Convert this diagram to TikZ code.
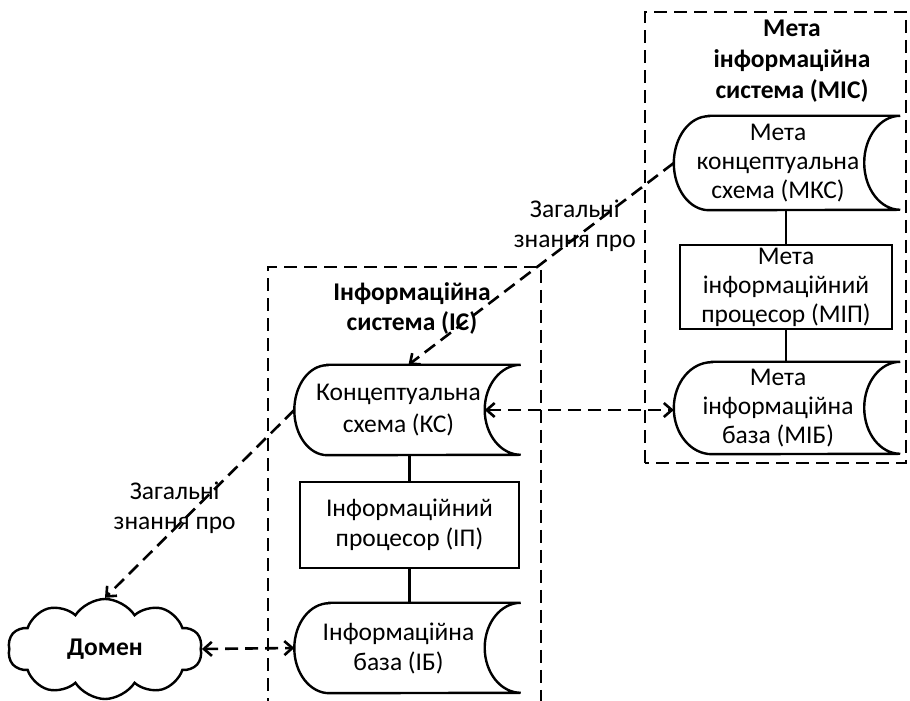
\documentclass[tikz,border=0pt]{standalone}
\usepackage{fontspec}
\setmainfont{Carlito}
\usetikzlibrary{arrows.meta,shapes.symbols}

\tikzset{
  lbl/.style={font=\fontsize{25.5}{30}\selectfont, align=center},
  ttl/.style={font=\fontsize{25.5}{30}\selectfont\bfseries, align=center},
  storebox/.style={lbl, inner sep=0pt, minimum width=208pt, minimum height=#1},
  procbox/.style={lbl, draw, line width=2.4pt, inner sep=0pt},
  solidline/.style={line width=2.4pt},
  dashline/.style={line width=2.6pt, dash pattern=on 13pt off 7pt},
  flow/.style={dashline, >={Straight Barb[length=8pt,width=14pt]}},
}

% outline of a stored-data symbol around node #1:
% #2 depth of the left bulge, #3 half depth of the right hollow, #4 half height
\newcommand{\storeline}[4]{%
  \draw[solidline] ([xshift=#2]#1.north west) -- ([xshift=#3]#1.north east)
    arc[start angle=90, end angle=270, x radius=2*#3, y radius=#4]
    -- ([xshift=#2]#1.south west)
    arc[start angle=270, end angle=90, x radius=#2, y radius=#4] -- cycle;
  \coordinate (#1-in) at ([xshift=-#3]#1.east);
}

\begin{document}
\begin{tikzpicture}[x=1pt, y=1pt]
  \useasboundingbox (0,0) rectangle (910,701);

  % system frames
  \draw[dashline] (645,238) rectangle (906,689);
  \draw[dashline] (268,-10) -- (268,434) -- (541,434) -- (541,-10);

  \node[ttl] (mistitle) at (792,640) {Мета\\[1pt]інформаційна\\[1pt]система (МІС)};
  \node[ttl] (istitle) at (412,393) {Інформаційна\\система (ІС)};

  % meta information system
  \node[storebox=94pt] (mks) at (778,538) {Мета\\[-1pt]концептуальна\\[-1pt]схема (МКС)};
  \storeline{mks}{35pt}{18pt}{47pt}
  \node[procbox, minimum width=212pt, minimum height=84pt] (mip) at (786,414)
    {Мета\\[-1pt]інформаційний\\[-1pt]процесор (МІП)};
  \node[storebox=92pt] (mib) at (778,293) {Мета\\[-1pt]інформаційна\\[-1pt]база (МІБ)};
  \storeline{mib}{38pt}{18pt}{46pt}

  % information system
  \node[storebox=90pt] (ks) at (398.5,291) {Концептуальна\\[2pt]схема (КС)};
  \storeline{ks}{33pt}{18pt}{45pt}
  \node[procbox, minimum width=219pt, minimum height=86pt] (ip) at (409.5,176)
    {Інформаційний\\процесор (ІП)};
  \node[storebox=90pt] (ib) at (398.5,53) {Інформаційна\\база (ІБ)};
  \storeline{ib}{35pt}{18pt}{45pt}

  % domain
  \node[cloud, draw, line width=2.4pt, cloud puffs=10, cloud puff arc=115, aspect=2,
        minimum width=194pt, minimum height=100pt, inner sep=0pt, ttl] (dom) at (105,52) {Домен};

  % solid links inside the systems
  \draw[solidline] (mip.north) -- (mip.north |- mks.south);
  \draw[solidline] (mip.south) -- (mip.south |- mib.north);
  \draw[solidline] (ip.north) -- (ip.north |- ks.south);
  \draw[solidline] (ip.south) -- (ip.south |- ib.north);

  % knowledge flows
  \draw[flow, ->] (mks.west) -- ([xshift=10pt]ks.north)
    node[pos=0.373, yshift=12pt, lbl] (kn1) {Загальні\\знання про};
  \draw[flow, ->] (ks.west) -- (dom.north)
    node[pos=0.632, yshift=21pt, lbl] (kn2) {Загальні\\знання про};
  \draw[flow, <->] (ks-in) -- (ks-in -| mib.west);
  \draw[flow, <->] (dom.east) -- (ib.west);
\end{tikzpicture}
\end{document}
